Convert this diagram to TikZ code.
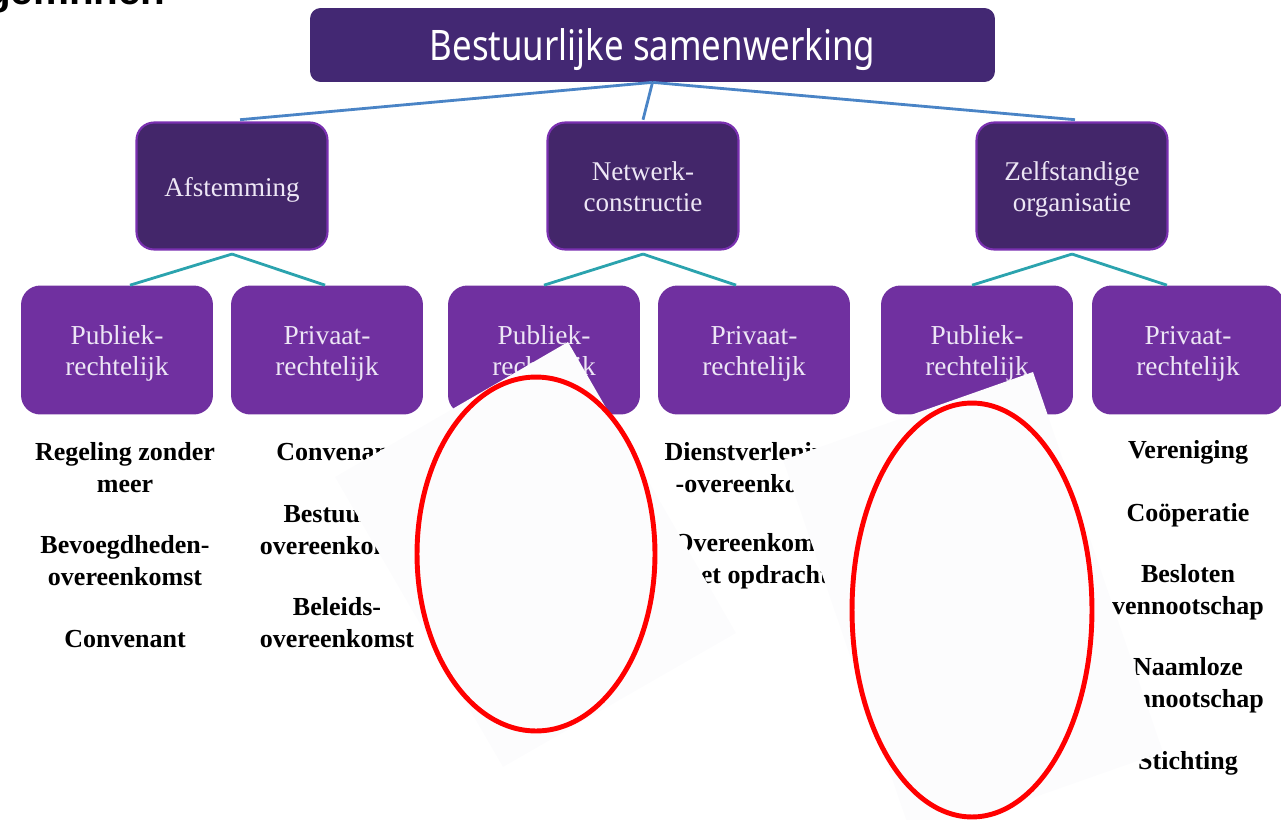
\documentclass[tikz,border=0pt]{standalone}
\usepackage{fontspec}
\usepackage{graphicx}
\setmainfont{Liberation Serif}
\newfontfamily\titlefont{Noto Sans}
\newfontfamily\hdrfont{Liberation Sans}
\definecolor{topfill}{HTML}{432873}
\definecolor{midfill}{HTML}{43266A}
\definecolor{midedge}{HTML}{7A30B0}
\definecolor{lowfill}{HTML}{7030A0}
\definecolor{boxtext}{HTML}{EDE6F5}
\definecolor{blueline}{HTML}{4A84C6}
\definecolor{tealline}{HTML}{2BA3AE}
\definecolor{patchcol}{HTML}{FCFCFD}
\definecolor{ringred}{HTML}{FF0000}
\newcommand\boxlines[1]{\raisebox{-2.4pt}[\height][\depth]{\begin{tabular}{@{}c@{}}#1\end{tabular}}}
\tikzset{
  topbox/.style={rectangle, rounded corners=6pt, fill=topfill, minimum width=13.7cm, minimum height=1.48cm, inner sep=0pt, text=white},
  midbox/.style={rectangle, rounded corners=10pt, fill=midfill, draw=midedge, line width=1.2pt, minimum width=3.82cm, minimum height=2.54cm, inner sep=0pt, text=boxtext, align=center, font=\fontsize{15.4pt}{17.6pt}\selectfont},
  lowbox/.style={rectangle, rounded corners=11pt, fill=lowfill, minimum width=3.84cm, minimum height=2.58cm, inner sep=0pt, text=boxtext, align=center, font=\fontsize{15.6pt}{17.6pt}\selectfont},
  itemtext/.style={align=center, inner sep=0pt, font=\bfseries\fontsize{14.8pt}{18.2pt}\selectfont},
  blueconn/.style={draw=blueline, line width=1.6pt},
  tealconn/.style={draw=tealline, line width=1.6pt},
  cover/.style={fill=patchcol},
  ring/.style={draw=ringred, line width=2.8pt}
}
\begin{document}
\begin{tikzpicture}[x=0.02cm, y=-0.02cm]
\useasboundingbox (0,0) rectangle (1281,819);
\clip (0,0) rectangle (1281,819);

% cropped heading at top-left
\node[anchor=base east, inner sep=0pt, font=\hdrfont\bfseries\fontsize{23pt}{26pt}\selectfont] (hdr) at (166,4) {gemhhen};

% top box
\node[topbox] (top) at (652.5,45) {\raisebox{-2.6pt}[\height][\depth]{\scalebox{0.87}[1.05]{\titlefont\fontsize{22.8pt}{26pt}\selectfont Bestuurlijke samenwerking}}};

% level 2
\node[midbox] (afst) at (232,186) {\boxlines{Afstemming}};
\node[midbox] (netw) at (643,186) {\boxlines{Netwerk-\\constructie}};
\node[midbox] (zelf) at (1072,186) {\boxlines{Zelfstandige\\organisatie}};

% level 3
\node[lowbox] (apub) at (117,350) {\boxlines{Publiek-\\rechtelijk}};
\node[lowbox] (apriv) at (327,350) {\boxlines{Privaat-\\rechtelijk}};
\node[lowbox] (npub) at (544,350) {\boxlines{Publiek-\\rechtelijk}};
\node[lowbox] (npriv) at (754,350) {\boxlines{Privaat-\\rechtelijk}};
\node[lowbox] (zpub) at (977,350) {\boxlines{Publiek-\\rechtelijk}};
\node[lowbox] (zpriv) at (1188,350) {\boxlines{Privaat-\\rechtelijk}};

% connectors
\draw[blueconn] (top.south) -- ([xshift=4.6pt,yshift=1pt]afst.north);
\draw[blueconn] (top.south) -- ([yshift=1pt]netw.north);
\draw[blueconn] (top.south) -- ([xshift=1.7pt,yshift=1pt]zelf.north);
\draw[tealconn] ([yshift=-2pt]afst.south) -- ([xshift=7.4pt]apub.north);
\draw[tealconn] ([yshift=-2pt]afst.south) -- ([xshift=-1.1pt]apriv.north);
\draw[tealconn] ([yshift=-2pt]netw.south) -- (npub.north);
\draw[tealconn] ([yshift=-2pt]netw.south) -- ([xshift=-10.2pt]npriv.north);
\draw[tealconn] ([yshift=-2pt]zelf.south) -- ([xshift=-2.8pt]zpub.north);
\draw[tealconn] ([yshift=-2pt]zelf.south) -- ([xshift=-12pt]zpriv.north);

% lists
\node[itemtext] (a1) at (125,468) {Regeling zonder\\meer};
\node[itemtext] (a2) at (125,561) {Bevoegdheden-\\overeenkomst};
\node[itemtext] (a3) at (125,639) {Convenant};
\node[itemtext] (b1) at (337,452) {Convenant};
\node[itemtext] (b2) at (337,530) {Bestuurs-\\overeenkomst};
\node[itemtext] (b3) at (337,623) {Beleids-\\overeenkomst};
\node[itemtext] (c1) at (757,468) {Dienstverlenings\\-overeenkomst};
\node[itemtext] (c2) at (754,561) {Overeenkomst\\met opdracht};
\node[itemtext] (d1) at (1188,452) {Vereniging};
\node[itemtext] (d2) at (1188,515) {Coöperatie};
\node[itemtext] (d3) at (1188,592) {Besloten\\vennootschap};
\node[itemtext] (d4) at (1188,685) {Naamloze\\vennootschap};
\node[itemtext] (d5) at (1188,763) {Stichting};

% white cover patches
\fill[cover] (568,342) -- (335,477) -- (503,767) -- (736,633) -- cycle;
\fill[cover] (1033,372) -- (783,460) -- (913,840) -- (1163,752) -- cycle;

% red rings
\draw[ring] (536,554) ellipse [x radius=2.38cm, y radius=3.54cm];
\draw[ring] (972,610) ellipse [x radius=2.40cm, y radius=4.14cm];
\end{tikzpicture}
\end{document}
